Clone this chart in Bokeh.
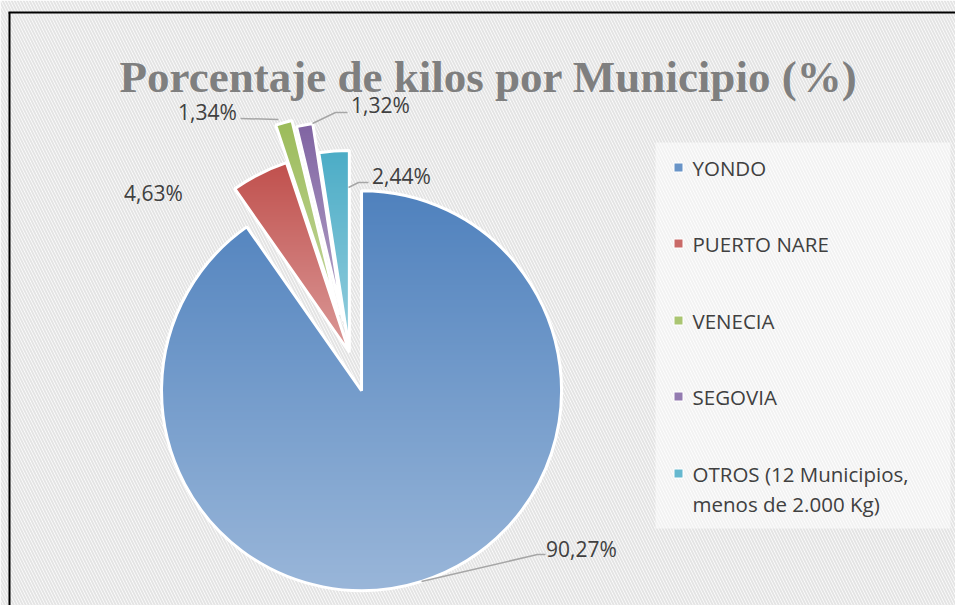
import numpy as np
from bokeh.plotting import figure
from bokeh.models import Range1d, BoxAnnotation
from bokeh.core.properties import value
from bokeh.embed import file_html
from bokeh.resources import INLINE

# ---------------- data ----------------
title_text = "Porcentaje de kilos por Municipio (%)"
categories = ["YONDO", "PUERTO NARE", "VENECIA", "SEGOVIA",
              "OTROS (12 Municipios, menos de 2.000 Kg)"]
percentages = [90.27, 4.63, 1.34, 1.32, 2.44]

# ---------------- style ----------------
colors = ["#4F81BD", "#C0504D", "#9BBB59", "#8064A2", "#4BACC6"]
explode = [40, 0, 39, 32, 2]          # px offset of each slice along its bisector
W, H = 955, 605


def px(x):  # page x -> data x
    return x


def py(y):  # page y -> data y
    return H - y


CX, CY, R = px(349), py(352), 200
TXT = "#404040"


def hex2rgb(h):
    h = h.lstrip("#")
    return np.array([int(h[i:i + 2], 16) for i in (0, 2, 4)], dtype=float)


def mix(h, t):
    c = hex2rgb(h) * (1 - t) + 255 * t
    return "#%02x%02x%02x" % tuple(int(round(v)) for v in c)


def clip(poly, yv, keep_above):
    out = []
    n = len(poly)
    for i in range(n):
        a = poly[i]
        b = poly[(i + 1) % n]
        ina = a[1] >= yv if keep_above else a[1] <= yv
        inb = b[1] >= yv if keep_above else b[1] <= yv
        if ina:
            out.append(a)
        if ina != inb:
            t = (yv - a[1]) / (b[1] - a[1])
            out.append((a[0] + t * (b[0] - a[0]), yv))
    return out


p = figure(width=W, height=H, x_range=Range1d(0, W), y_range=Range1d(0, H),
           output_backend="svg", toolbar_location=None, min_border=0,
           outline_line_color=None, background_fill_color="white",
           border_fill_color="white")
p.axis.visible = False
p.grid.visible = False

bg = BoxAnnotation(fill_color="white", fill_alpha=1.0, line_alpha=0,
                   hatch_pattern="left_diagonal_line", hatch_color="#e4e4e4",
                   hatch_weight=2, hatch_scale=6, level="underlay")
p.add_layout(bg)

# legend box (lighter)
p.add_layout(BoxAnnotation(left=px(655), right=px(950), bottom=py(528), top=py(142),
                           fill_color="white", fill_alpha=0.5, line_alpha=0,
                           level="underlay"))

# frame border
p.line([px(9), px(9)], [0, py(12)], line_color="black", line_width=2)
p.line([px(8), W], [py(12), py(12)], line_color="black", line_width=2)

# ---------------- pie ----------------
total = float(sum(percentages))
cum = np.concatenate([[0.0], np.cumsum(percentages)]) / total * 360.0
xs, ys, fc = [], [], []
wx, wy, ws, we = [], [], [], []
for i, (cat, v) in enumerate(zip(categories, percentages)):
    a0, a1 = cum[i], cum[i + 1]            # clockwise from north
    s_m, e_m = 90 - a1, 90 - a0            # math angles
    mid = np.radians(90 - (a0 + a1) / 2)
    ax = CX + explode[i] * np.cos(mid)
    ay = CY + explode[i] * np.sin(mid)
    angs = np.radians(np.linspace(s_m, e_m, max(int(a1 - a0) + 2, 4)))
    poly = [(ax, ay)] + [(ax + R * np.cos(t), ay + R * np.sin(t)) for t in angs]
    ymin = min(q[1] for q in poly)
    ymax = max(q[1] for q in poly)
    step = 2.5
    y = ymax
    while y > ymin:
        lo, hi = y - step - 0.6, y + 0.6
        pc = clip(clip(poly, lo, True), hi, False)
        if len(pc) >= 3:
            t = (ymax - (y - step / 2)) / (ymax - ymin)
            xs.append([q[0] for q in pc])
            ys.append([q[1] for q in pc])
            fc.append(mix(colors[i], 0.42 * min(max(t, 0), 1)))
        y -= step
    wx.append(ax); wy.append(ay)
    ws.append(np.radians(s_m)); we.append(np.radians(e_m))

p.patches(xs, ys, fill_color=fc, line_color=None)
p.wedge(x=wx, y=wy, radius=R, start_angle=ws, end_angle=we, direction="anticlock",
        fill_alpha=0, line_color="white", line_width=3)

# ---------------- data labels ----------------
labels = [("%.2f%%" % v).replace(".", ",") for v in percentages]
label_pos = [(581, 548), (153, 192), (207, 111), (380, 104), (401, 175)]
leaders = [[(421, 581), (537, 554), (545, 554)], None,
           [(240, 118), (278, 119)],
           [(312, 123), (335, 112), (347, 112)],
           [(348, 187), (358, 182), (368, 182)]]
for ld in leaders:
    if ld:
        p.line([px(a) for a, b in ld], [py(b) for a, b in ld],
               line_color="#a6a6a6", line_width=1.5)
p.text(x=[px(a) for a, b in label_pos], y=[py(b) for a, b in label_pos], text=labels,
       text_font=value("Open Sans"), text_font_size="21px", text_color=TXT,
       text_align="center", text_baseline="middle")

# ---------------- title ----------------
p.text(x=[px(488)], y=[py(76)], text=[title_text], text_font=value("Liberation Serif"),
       text_font_style="bold", text_font_size="45px", text_color="#7f7f7f",
       text_align="center", text_baseline="alphabetic")

# ---------------- legend ----------------
leg_y = [167, 243, 320, 396, 473]
p.rect(x=[px(678)] * 5, y=[py(v) for v in leg_y], width=9, height=9,
       fill_color=[mix(c, 0.15) for c in colors], line_color="white", line_width=1)
lx, ly, lt = [], [], []
for cat, yy in zip(categories, leg_y):
    parts = cat.split(", ")
    for k, part in enumerate(parts):
        lx.append(px(692))
        ly.append(py(yy + 30 * k))
        lt.append(part + ("," if k < len(parts) - 1 else ""))
p.text(x=lx, y=ly, text=lt, text_font=value("Open Sans"), text_font_size="20.5px",
       text_color=TXT, text_align="left", text_baseline="middle")

open("out.html", "w").write(file_html(p, INLINE))
